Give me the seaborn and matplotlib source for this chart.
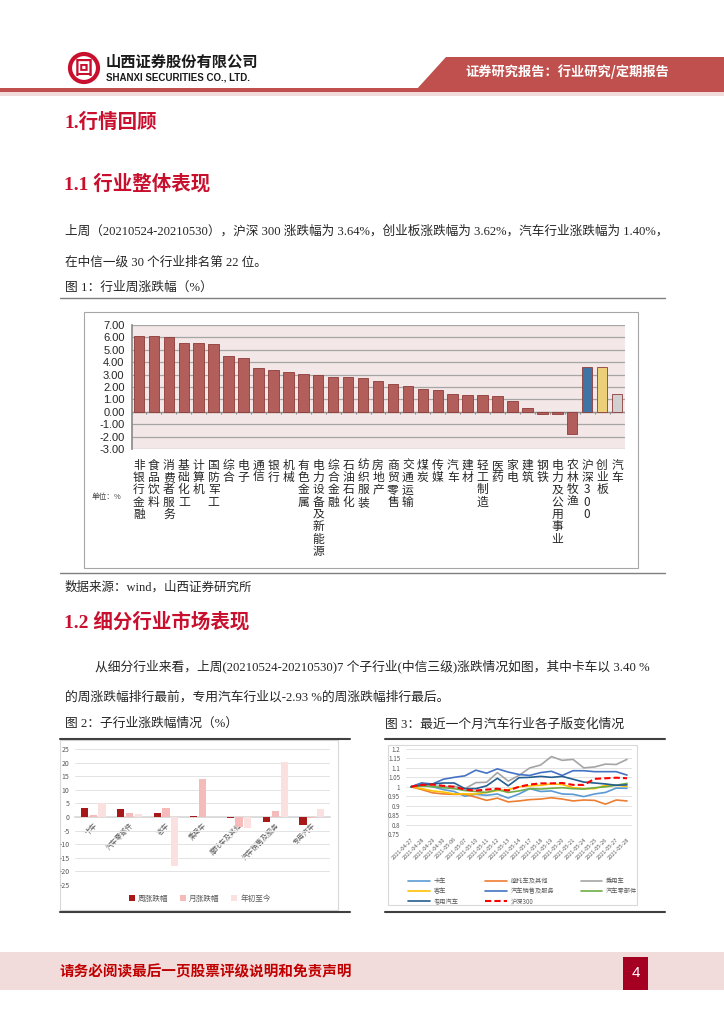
"""
Page de rapport : performance hebdomadaire des secteurs (Shanxi Securities).
Trois graphiques seaborn places sur une page A4 reconstruite.
"""

import numpy as np
import pandas as pd
import matplotlib
matplotlib.use("Agg")
import matplotlib.pyplot as plt
from matplotlib.patches import Polygon, Rectangle, Circle
import seaborn as sns

W, H = 724, 1024

# ---- Figure 1 : industries, weekly change (%) ----
INDUSTRIES = [
    "非银行金融", "食品饮料", "消费者服务", "基础化工", "计算机", "国防军工",
    "综合", "电子", "通信", "银行", "机械", "有色金属", "电力设备及新能源",
    "综合金融", "石油石化", "纺织服装", "房地产", "商贸零售", "交通运输",
    "煤炭", "传媒", "汽车", "建材", "轻工制造", "医药", "家电", "建筑",
    "钢铁", "电力及公用事业", "农林牧渔", "沪深300", "创业板", "汽车",
]
WEEKLY_CHANGE = [
    6.15, 6.14, 6.07, 5.57, 5.56, 5.44, 4.48, 4.32, 3.57, 3.39, 3.23, 3.01,
    2.93, 2.80, 2.77, 2.69, 2.48, 2.27, 2.11, 1.81, 1.73, 1.40, 1.39, 1.38,
    1.31, 0.88, 0.27, -0.15, -0.20, -1.81, 3.64, 3.62, 1.40,
]

# ---- Figure 2 : sub-industries ----
SUB_INDUSTRIES = ["卡车", "汽车零部件", "客车", "乘用车", "摩托车及其他", "汽车销售及服务", "专用汽车"]
SUB_SERIES = ["周涨跌幅", "月涨跌幅", "年初至今"]
SUB_WEEK = [3.40, 3.00, 1.40, 0.40, -0.30, -2.00, -2.93]
SUB_MONTH = [0.85, 1.60, 3.30, 14.10, -3.80, 2.30, -0.30]
SUB_YTD = [5.00, 1.20, -18.00, 0.10, -4.00, 20.40, 2.80]

# ---- Figure 3 : one month of relative performance ----
DATES = [
    "2021-04-27", "2021-04-28", "2021-04-29", "2021-04-30", "2021-05-06",
    "2021-05-07", "2021-05-10", "2021-05-11", "2021-05-12", "2021-05-13",
    "2021-05-14", "2021-05-17", "2021-05-18", "2021-05-19", "2021-05-20",
    "2021-05-21", "2021-05-24", "2021-05-25", "2021-05-26", "2021-05-27",
    "2021-05-28",
]
TRUCK = [1.0, 1.02, 1.0, 0.985, 0.975, 0.95, 0.96, 0.955, 0.962, 0.94, 0.962,
         0.99, 0.975, 0.978, 0.962, 0.96, 0.948, 0.962, 0.97, 0.993, 0.992]
MOTO = [1.0, 0.985, 0.968, 0.962, 0.96, 0.96, 0.945, 0.928, 0.94, 0.92, 0.925,
        0.932, 0.935, 0.942, 0.935, 0.925, 0.93, 0.928, 0.908, 0.93, 0.925]
PASSENGER = [1.0, 1.003, 1.005, 1.0, 1.002, 0.99, 1.022, 1.024, 1.075, 1.03, 1.06,
             1.10, 1.115, 1.16, 1.14, 1.145, 1.10, 1.105, 1.12, 1.118, 1.145]
BUS = [1.0, 0.99, 0.978, 0.972, 0.962, 0.962, 0.962, 0.97, 0.98, 0.985, 1.0,
       1.005, 1.008, 1.015, 1.012, 0.995, 0.99, 0.99, 1.008, 1.008, 1.002]
SALES = [1.0, 1.02, 1.015, 1.04, 1.05, 1.058, 1.088, 1.072, 1.095, 1.078, 1.065,
         1.06, 1.075, 1.082, 1.06, 1.085, 1.085, 1.08, 1.08, 1.08, 1.062]
PARTS = [1.0, 1.005, 1.0, 0.995, 0.99, 0.98, 0.975, 0.97, 0.985, 0.97, 0.978,
         0.99, 0.988, 0.992, 0.995, 0.99, 0.988, 0.995, 1.0, 1.008, 1.018]
SPECIAL = [1.0, 1.01, 1.015, 1.02, 1.02, 0.99, 0.99, 1.005, 1.045, 1.005, 1.048,
           1.05, 1.055, 1.05, 1.055, 1.04, 1.025, 1.02, 1.015, 1.008, 1.01]
HS300 = [1.0, 1.01, 1.012, 1.005, 1.0, 0.985, 0.98, 0.985, 0.99, 0.98, 1.0,
         1.012, 1.018, 1.018, 1.02, 1.01, 1.01, 1.042, 1.045, 1.048, 1.045]
LINE_NAMES = ["卡车", "摩托车及其他", "乘用车", "客车", "汽车销售及服务", "汽车零部件", "专用汽车", "沪深300"]

# Styles
RED_TITLE = "#C8102E"
BANNER = "#C0504D"
PINK = "#F2DCDB"
SERIF_CJK = ["Liberation Serif", "Noto Sans CJK SC"]
SANS_CJK = ["Noto Sans CJK SC", "DejaVu Sans"]
GREY_TXT = "#595959"


def px_rect(x0, y0, x1, y1):
    """Convertit une boite en pixels (origine en haut) en coordonnees figure."""
    return [x0 / W, 1 - y1 / H, (x1 - x0) / W, (y1 - y0) / H]


def dessiner_page(bg):
    """En-tete, textes, cadres et pied de page."""
    # header
    bg.add_patch(Circle((84, 68), 14, fill=False, ec=RED_TITLE, lw=3))
    bg.text(84, 68, "回", color=RED_TITLE, fontsize=13, fontweight="bold",
            ha="center", va="center", family=SANS_CJK)
    bg.text(106, 62, "山西证券股份有限公司", fontsize=11, fontweight="bold",
            va="center", family=SANS_CJK, color="#1A1A1A")
    bg.text(106, 78, "SHANXI SECURITIES CO., LTD.", fontsize=7, fontweight="bold",
            va="center", family=["Liberation Sans"], color="#1A1A1A")
    bg.add_patch(Polygon([(446, 57), (W, 57), (W, 90), (416, 90)], color=BANNER, lw=0))
    bg.add_patch(Rectangle((0, 88), W, 3.5, color=BANNER, lw=0))
    bg.add_patch(Rectangle((0, 91.5), W, 4, color=PINK, lw=0))
    bg.text(567, 72, "证券研究报告：行业研究/定期报告", color="white", fontsize=9.5,
            fontweight="bold", ha="center", va="center", family=SANS_CJK)

    # titles and body text
    bg.text(64, 122, "1.行情回顾", color=RED_TITLE, fontsize=14, fontweight="bold",
            va="center", family=SERIF_CJK)
    bg.text(64, 184, "1.1 行业整体表现", color=RED_TITLE, fontsize=14, fontweight="bold",
            va="center", family=SERIF_CJK)
    bg.text(65, 231, "上周（20210524-20210530），沪深 300 涨跌幅为 3.64%，创业板涨跌幅为 3.62%，"
            "汽车行业涨跌幅为 1.40%，", fontsize=9.1, va="center", family=SERIF_CJK)
    bg.text(65, 262, "在中信一级 30 个行业排名第 22 位。", fontsize=9.1, va="center", family=SERIF_CJK)
    bg.text(65, 288, "图 1：行业周涨跌幅（%）", fontsize=9.2, va="center", family=SERIF_CJK)
    bg.plot([60, 665], [298, 298], color="#7F7F7F", lw=1)
    bg.add_patch(Rectangle((84, 312), 554, 256, fill=False, ec="#A6A6A6", lw=0.8))
    bg.plot([60, 665], [573, 573], color="#7F7F7F", lw=1)
    bg.text(92, 497, "单位：%", fontsize=5.5, va="center", family=SANS_CJK, color="#404040")
    bg.text(65, 587, "数据来源：wind，山西证券研究所", fontsize=9, va="center", family=SERIF_CJK)

    bg.text(64, 622, "1.2 细分行业市场表现", color=RED_TITLE, fontsize=14, fontweight="bold",
            va="center", family=SERIF_CJK)
    bg.text(95, 666, "从细分行业来看，上周(20210524-20210530)7 个子行业(中信三级)涨跌情况如图，"
            "其中卡车以 3.40 %", fontsize=9.2, va="center", family=SERIF_CJK)
    bg.text(65, 697, "的周涨跌幅排行最前，专用汽车行业以-2.93 %的周涨跌幅排行最后。",
            fontsize=9.2, va="center", family=SERIF_CJK)
    bg.text(65, 724, "图 2：子行业涨跌幅情况（%）", fontsize=9.2, va="center", family=SERIF_CJK)
    bg.text(385, 724, "图 3：最近一个月汽车行业各子版变化情况", fontsize=9.2, va="center",
            family=SERIF_CJK)

    # chart frames for figures 2 and 3
    bg.add_patch(Rectangle((60, 740), 278, 170, fill=False, ec="#D9D9D9", lw=0.8))
    bg.plot([60, 350], [739, 739], color="#404040", lw=1.5)
    bg.plot([60, 350], [912, 912], color="#404040", lw=1.5)
    bg.add_patch(Rectangle((388, 745), 249, 160, fill=False, ec="#D9D9D9", lw=0.8))
    bg.plot([385, 665], [739, 739], color="#404040", lw=1.5)
    bg.plot([385, 665], [912, 912], color="#404040", lw=1.5)

    # footer
    bg.add_patch(Rectangle((0, 952), W, 38, color=PINK, lw=0))
    bg.add_patch(Rectangle((623, 957), 25, 33, color="#A50021", lw=0))
    bg.text(635.5, 973, "4", color="white", fontsize=11, ha="center", va="center",
            family=["Liberation Sans"])
    bg.text(60, 971, "请务必阅读最后一页股票评级说明和免责声明", color="#C00000", fontsize=10.5,
            fontweight="bold", va="center", family=SANS_CJK)


def graphique_industries(fig):
    """Figure 1 : barres des 30 industries + indices."""
    ax = fig.add_axes(px_rect(131.5, 325, 624.5, 449))
    n = len(INDUSTRIES)
    df = pd.DataFrame({"pos": np.arange(n), "val": WEEKLY_CHANGE})
    couleurs = ["#C0504D"] * (n - 3) + ["#2E75B6", "#FFD966", "#D0D0D0"]
    sns.barplot(data=df, x="pos", y="val", hue="pos", palette=dict(zip(df["pos"], couleurs)),
                legend=False, width=0.7, edgecolor="#8E3B38", linewidth=0.6, ax=ax, zorder=3)
    ax.set_facecolor("#F3E7E7")
    ax.set_ylim(-3, 7)
    ax.set_xlim(-0.5, n - 0.5)
    ax.set_yticks(np.arange(-3, 8, 1))
    ax.set_yticklabels([f"{v:.2f}" for v in np.arange(-3, 8, 1)], fontsize=8,
                       family=["Liberation Sans"])
    ax.grid(axis="y", color="#A6A6A6", lw=0.9, zorder=0)
    ax.set_axisbelow(True)
    ax.set_xticks(np.arange(n))
    ax.set_xticklabels(["\n".join(nom) for nom in INDUSTRIES], fontsize=8.5,
                       family=SANS_CJK, linespacing=0.93, va="top")
    ax.tick_params(axis="x", length=0, pad=7)
    ax.tick_params(axis="y", length=3, color="#A6A6A6", pad=2)
    ax.axhline(0, color="#8C8C8C", lw=0.9, zorder=2)
    ax.vlines(np.arange(n + 1) - 0.5, -0.18, 0, color="#8C8C8C", lw=0.8, zorder=2)
    for s in ["top", "right", "bottom"]:
        ax.spines[s].set_visible(False)
    ax.spines["left"].set_color("#8C8C8C")
    ax.set_xlabel("")
    ax.set_ylabel("")


def graphique_sous_industries(fig):
    """Figure 2 : barres groupees des sous-industries."""
    ax = fig.add_axes(px_rect(75, 749, 330, 885))
    df = pd.DataFrame({
        "cat": SUB_INDUSTRIES * 3,
        "serie": np.repeat(SUB_SERIES, len(SUB_INDUSTRIES)),
        "val": SUB_WEEK + SUB_MONTH + SUB_YTD,
    })
    sns.barplot(data=df, x="cat", y="val", hue="serie", order=SUB_INDUSTRIES,
                hue_order=SUB_SERIES, palette=["#C00000", "#FFB1B1", "#FFDCDC"],
                width=0.72, gap=0.18, linewidth=0, ax=ax, zorder=3)
    ax.set_ylim(-25, 25)
    ax.set_yticks(np.arange(-25, 26, 5))
    ax.tick_params(axis="y", labelsize=5, labelcolor=GREY_TXT, length=0, pad=4)
    ax.grid(axis="y", color="#E3E3E3", lw=0.7, zorder=0)
    ax.set_axisbelow(True)
    for s in ["top", "right", "left"]:
        ax.spines[s].set_visible(False)
    ax.spines["bottom"].set_position(("data", 0))
    ax.spines["bottom"].set_color("#D9D9D9")
    plt.setp(ax.get_xticklabels(), rotation=45, ha="right", rotation_mode="anchor",
             fontsize=5, color=GREY_TXT, family=SANS_CJK)
    ax.tick_params(axis="x", length=0, pad=3)
    ax.set_xlabel("")
    ax.set_ylabel("")
    ax.legend(loc="center", bbox_to_anchor=(0.49, -0.1), ncol=3, frameon=False,
              prop={"family": SANS_CJK, "size": 5.5}, labelcolor=GREY_TXT,
              handlelength=0.8, handleheight=0.8, columnspacing=1.5, handletextpad=0.4)


def graphique_lignes(fig):
    """Figure 3 : evolution relative des sous-secteurs sur un mois."""
    ax = fig.add_axes(px_rect(405.6, 749, 632.4, 834))
    series = [TRUCK, MOTO, PASSENGER, BUS, SALES, PARTS, SPECIAL, HS300]
    df = pd.DataFrame({
        "x": np.tile(np.arange(len(DATES)), len(LINE_NAMES)),
        "nom": np.repeat(LINE_NAMES, len(DATES)),
        "val": np.concatenate(series),
    })
    couleurs = ["#5B9BD5", "#ED7D31", "#A5A5A5", "#FFC000", "#4472C4", "#70AD47",
                "#255E91", "#FF0000"]
    tirets = {nom: "" for nom in LINE_NAMES}
    tirets["沪深300"] = (3, 1.5)
    sns.lineplot(data=df, x="x", y="val", hue="nom", style="nom", hue_order=LINE_NAMES,
                 style_order=LINE_NAMES, palette=couleurs, dashes=tirets, linewidth=1.2,
                 ax=ax, legend=True)
    for ln in ax.get_lines():
        if ln.get_label() == "沪深300" or ln.get_color() == "#FF0000":
            ln.set_linewidth(1.5)
    ax.set_xlim(-0.5, len(DATES) - 0.5)
    ax.set_ylim(0.75, 1.2)
    yt = np.round(np.arange(0.75, 1.2001, 0.05), 2)
    ax.set_yticks(yt)
    ax.set_yticklabels([f"{v:g}" for v in yt])
    ax.tick_params(axis="y", labelsize=4.5, labelcolor=GREY_TXT, length=0, pad=4)
    ax.set_xticks(np.arange(len(DATES)))
    ax.set_xticklabels(DATES)
    plt.setp(ax.get_xticklabels(), rotation=45, ha="right", rotation_mode="anchor",
             fontsize=4, color=GREY_TXT)
    ax.tick_params(axis="x", length=0, pad=2)
    ax.grid(axis="y", color="#E3E3E3", lw=0.7)
    ax.set_axisbelow(True)
    for s in ax.spines.values():
        s.set_visible(False)
    ax.set_xlabel("")
    ax.set_ylabel("")

    # legend, rows of three as in the original
    handles, labels = ax.get_legend_handles_labels()
    lookup = dict(zip(labels, handles))
    ordre = ["卡车", "客车", "专用汽车", "摩托车及其他", "汽车销售及服务", "沪深300", "乘用车", "汽车零部件"]
    ax.legend([lookup[k] for k in ordre], ordre, loc="upper left", bbox_to_anchor=(0.0, -0.48),
              ncol=3, frameon=False, prop={"family": SANS_CJK, "size": 4.5}, labelcolor=GREY_TXT,
              handlelength=3.5, columnspacing=4.2, labelspacing=0.35, handletextpad=0.6,
              borderaxespad=0)


def main():
    sns.set_theme(style="white")
    plt.rcParams["font.family"] = SANS_CJK
    plt.rcParams["axes.unicode_minus"] = False

    fig = plt.figure(figsize=(W / 100, H / 100), dpi=100)
    fig.patch.set_facecolor("white")

    bg = fig.add_axes([0, 0, 1, 1], zorder=0)
    bg.set_xlim(0, W)
    bg.set_ylim(H, 0)
    bg.axis("off")
    dessiner_page(bg)

    graphique_industries(fig)
    graphique_sous_industries(fig)
    graphique_lignes(fig)

    fig.savefig("out.png", dpi=100)
    plt.close(fig)


if __name__ == "__main__":
    main()
